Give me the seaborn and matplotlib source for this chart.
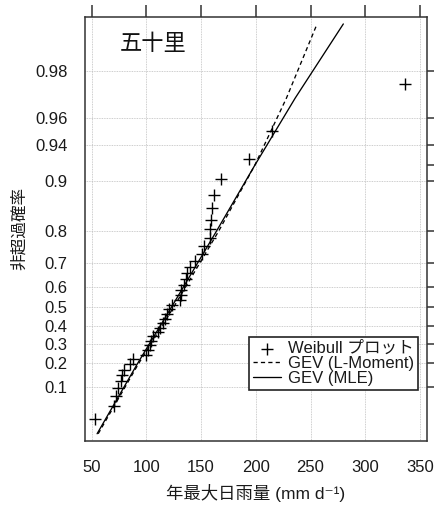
import numpy as np
import pandas as pd
import matplotlib
matplotlib.use("Agg")
import matplotlib.pyplot as plt
from matplotlib.ticker import FixedLocator, FuncFormatter, NullFormatter
import seaborn as sns

# ---- data ----
rain = [53, 70.5, 72.5, 74, 76.5, 78, 79.5, 85.5, 87.5, 99.5,
        101.5, 103, 104.5, 106, 110.5, 112.5, 115, 117, 118.5, 120.5,
        123, 130.5, 131.5, 132, 134, 136, 137.5, 139.5, 144, 151,
        153, 158, 158.5, 159, 160, 161.5, 168.5, 193.5, 214.5, 336]
weibull_prob = [0.0244, 0.0488, 0.0732, 0.0976, 0.1220, 0.1463, 0.1707, 0.1951, 0.2195, 0.2439,
                0.2683, 0.2927, 0.3171, 0.3415, 0.3659, 0.3902, 0.4146, 0.4390, 0.4634, 0.4878,
                0.5122, 0.5366, 0.5610, 0.5854, 0.6098, 0.6341, 0.6585, 0.6829, 0.7073, 0.7317,
                0.7561, 0.7805, 0.8049, 0.8293, 0.8537, 0.8780, 0.9024, 0.9268, 0.9512, 0.9756]

curve_prob = [0.01, 0.2, 0.5, 0.8, 0.92, 0.97, 0.99]
gev_lmom_x = [56, 93, 125, 166, 199, 228, 256]
gev_mle_x = [55, 92, 123, 164, 199, 236, 280]

major_ticks = [0.1, 0.2, 0.3, 0.4, 0.5, 0.6, 0.7, 0.8, 0.9, 0.94, 0.96, 0.98]
minor_ticks = [0.92]
x_ticks = [50, 100, 150, 200, 250, 300, 350]

station = "五十里"
xlabel = "年最大日雨量 (mm d⁻¹)"
ylabel = "非超過確率"
legend_labels = ["Weibull プロット", "GEV (L-Moment)", "GEV (MLE)"]

# ---- style ----
sns.set_style("white")
plt.rcParams["font.family"] = ["Liberation Sans", "Noto Sans CJK JP", "DejaVu Sans"]
plt.rcParams["axes.unicode_minus"] = False

fig = plt.figure(figsize=(4.34, 5.11), dpi=100)
ax = fig.add_axes([0.196, 0.137, 0.788, 0.830])

pts = pd.DataFrame({"rain": rain, "prob": weibull_prob})
lm = pd.DataFrame({"x": gev_lmom_x, "p": curve_prob})
mle = pd.DataFrame({"x": gev_mle_x, "p": curve_prob})

sns.scatterplot(data=pts, x="rain", y="prob", marker="+", s=70, color="black",
                linewidth=1.0, ax=ax, label=legend_labels[0], zorder=3)
sns.lineplot(data=lm, x="x", y="p", sort=False, estimator=None, color="black",
             linewidth=0.95, linestyle=(0, (3.2, 2.4)), ax=ax, label=legend_labels[1], zorder=3)
sns.lineplot(data=mle, x="x", y="p", sort=False, estimator=None, color="black",
             linewidth=0.95, ax=ax, label=legend_labels[2], zorder=3)


def fwd(p):
    p = np.clip(np.asarray(p, dtype=float), 1e-9, 1 - 1e-9)
    return -np.log(-np.log(p))


def inv(g):
    return np.exp(-np.exp(-np.asarray(g, dtype=float)))


ax.set_yscale("function", functions=(fwd, inv))
ax.set_ylim(0.0059, 0.991)
ax.set_xlim(44, 356.5)

ax.yaxis.set_major_locator(FixedLocator(major_ticks))
ax.yaxis.set_minor_locator(FixedLocator(minor_ticks))
ax.yaxis.set_major_formatter(FuncFormatter(lambda v, pos: f"{v:g}"))
ax.yaxis.set_minor_formatter(NullFormatter())
ax.xaxis.set_major_locator(FixedLocator(x_ticks))
ax.xaxis.set_minor_locator(FixedLocator([]))

ax.grid(True, which="major", linestyle=(0, (1, 1)), color="#bdbdbd", linewidth=0.6)
ax.set_axisbelow(True)

for s in ax.spines.values():
    s.set_color("#333333")
    s.set_linewidth(1.1)

ax.tick_params(axis="both", which="both", direction="out", length=8.5, width=1.1,
               color="#333333", top=True, right=True, labelsize=12, labelcolor="#1a1a1a")
ax.tick_params(axis="x", pad=5)
ax.tick_params(axis="y", pad=4)

ax.set_xlabel(xlabel, fontsize=12.5, labelpad=7, color="#1a1a1a")
ax.set_ylabel(ylabel, fontsize=12, labelpad=6, color="#1a1a1a")

ax.text(0.102, 0.934, station, transform=ax.transAxes, fontsize=16,
        ha="left", va="center", color="#111111")

leg = ax.legend(loc="lower right", bbox_to_anchor=(0.974, 0.120), borderaxespad=0,
                fontsize=12, frameon=True, fancybox=False, framealpha=1,
                edgecolor="#222222", handlelength=1.7, handletextpad=0.4,
                labelspacing=0.0, borderpad=0.25)
leg.get_frame().set_linewidth(1.2)
for t in leg.get_texts():
    t.set_color("#1a1a1a")

fig.savefig("out.png", dpi=100)
